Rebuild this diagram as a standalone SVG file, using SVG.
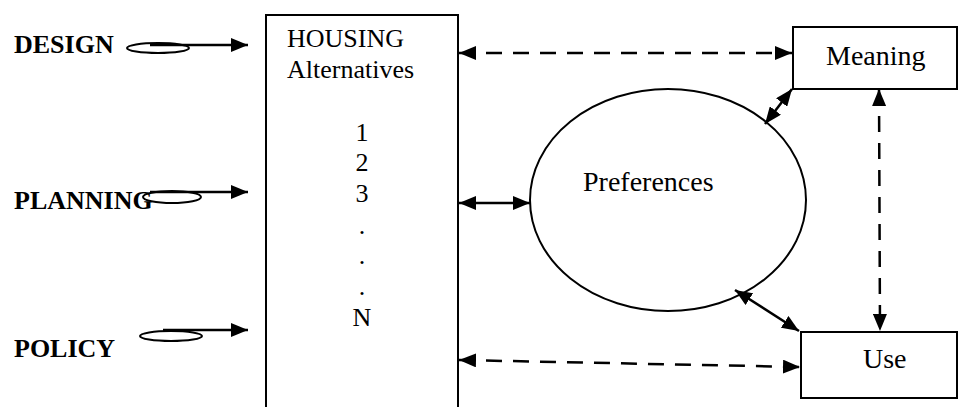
<svg xmlns="http://www.w3.org/2000/svg" width="961" height="407" viewBox="0 0 961 407">
<style>
.box{fill:#fff;stroke:#000;stroke-width:2}
.ell{fill:none;stroke:#000;stroke-width:2}
.t{font-family:"Liberation Serif","Times New Roman",serif;font-size:26px;fill:#000}
.r{font-size:28px}
.b{font-family:"Liberation Serif","Times New Roman",serif;font-size:26px;font-weight:bold;fill:#000}
.c{stroke:#000;stroke-width:2.5;fill:none}
.d{stroke-dasharray:16 11}
</style>
<defs>
<marker id="ah" markerUnits="userSpaceOnUse" markerWidth="17" markerHeight="14" refX="17" refY="7" orient="auto-start-reverse" viewBox="0 0 17 14">
<path d="M0,0 L17,7 L0,14 z" fill="#000"/>
</marker>
</defs>
<rect width="961" height="407" fill="#fff"/>
<g id="design">
<text class="b" x="14" y="53">DESIGN</text>
<ellipse class="ell" cx="158" cy="48" rx="31" ry="5"/>
</g>
<g id="planning">
<text class="b" x="14" y="209">PLANNING</text>
<ellipse class="ell" cx="172" cy="197" rx="29" ry="6"/>
</g>
<g id="policy">
<text class="b" x="14" y="357">POLICY</text>
<ellipse class="ell" cx="171" cy="336" rx="31" ry="5"/>
</g>
<g id="housing">
<rect class="box" x="266" y="15" width="192" height="400"/>
<text class="t" x="287" y="47">HOUSING</text>
<text class="t" x="287" y="78">Alternatives</text>
<text class="t" x="362" y="141" text-anchor="middle">1</text>
<text class="t" x="362" y="171" text-anchor="middle">2</text>
<text class="t" x="362" y="202" text-anchor="middle">3</text>
<text class="t" x="362" y="234" text-anchor="middle">.</text>
<text class="t" x="362" y="264" text-anchor="middle">.</text>
<text class="t" x="362" y="295" text-anchor="middle">.</text>
<text class="t" x="362" y="326" text-anchor="middle">N</text>
</g>
<g id="preferences">
<ellipse class="ell" cx="668" cy="200" rx="138" ry="111"/>
<text class="t r" x="583" y="191">Preferences</text>
</g>
<g id="meaning">
<rect class="box" x="793" y="27" width="164" height="62"/>
<text class="t r" x="826" y="65">Meaning</text>
</g>
<g id="use">
<rect class="box" x="801" y="332" width="156" height="66"/>
<text class="t r" x="863" y="368">Use</text>
</g>
<g id="connectors">
<line class="c" x1="150" y1="45" x2="248" y2="45" marker-end="url(#ah)"/>
<line class="c" x1="150" y1="192" x2="248" y2="192" marker-end="url(#ah)"/>
<line class="c" x1="163" y1="330" x2="248" y2="330" marker-end="url(#ah)"/>
<line class="c d" x1="459" y1="53" x2="792" y2="53" marker-start="url(#ah)" marker-end="url(#ah)"/>
<line class="c" x1="459" y1="203" x2="530" y2="203" marker-start="url(#ah)" marker-end="url(#ah)"/>
<line class="c" x1="765" y1="124" x2="792" y2="89" marker-start="url(#ah)" marker-end="url(#ah)"/>
<line class="c" x1="735" y1="290" x2="799" y2="331" marker-start="url(#ah)" marker-end="url(#ah)"/>
<line class="c d" x1="459" y1="360" x2="800" y2="367" marker-start="url(#ah)" marker-end="url(#ah)"/>
<line class="c d" x1="879" y1="89" x2="880" y2="331" marker-start="url(#ah)" marker-end="url(#ah)"/>
</g>
</svg>
